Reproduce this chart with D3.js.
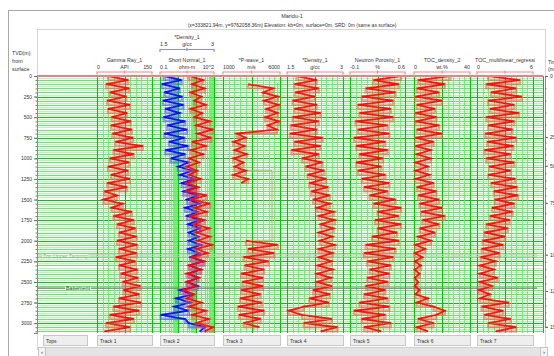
<!DOCTYPE html>
<html>
<head>
<meta charset="utf-8">
<script src="https://cdn.jsdelivr.net/npm/d3@7"></script>
<style>
body { margin: 0; background: #fff; }
svg text { font-family: "Liberation Sans", Arial, sans-serif; fill: #333; }
</style>
</head>
<body>
<div id="chart"></div>
<script>
const W = 554, H = 356;

// sampling grid of the logs (m, every 50 m)
const depths = d3.range(0, 3101, 50);

// curve values
const gammaRay = [30,85,25,88,35,80,28,90,30,82, 40,92,38,95,42,98,50,125,45,100,
  35,88,30,85,38,90,28,82,20,55, 18,70,40,95,45,100,55,105,60,108,
  55,110,60,108,52,105,60,110,65,112, 70,118,72,115,60,120,45,115,35,100, 25,90,20];
const densityT2 = [1.60,2.10,1.55,2.05,1.62,2.12,1.58,2.15,1.65,2.05,
  1.60,2.20,1.70,2.25,1.62,2.18,1.75,2.28,1.65,2.20,
  1.80,2.30,2.00,2.40,2.05,2.45,2.10,2.50,2.15,2.55,
  2.25,2.60,2.20,2.55,2.25,2.60,2.28,2.62,2.30,2.58,
  2.30,2.65,2.28,2.60,2.35,2.70,2.32,2.62,2.30,2.55,
  2.25,2.55,2.05,2.40,1.95,2.35,1.90,2.30,1.52,2.20, 2.30,2.75,2.60];
const shortNormal = [4,25,6,30,5,20,8,35,5,22, 8,60,10,90,12,70,6,35,5,25,
  4,15,3,12,4,18,3,14,3,40, 5,60,8,40,5,30,8,55,10,60,
  12,80,10,45,6,30,4,20,3,15, 3,10,2,8,3,20,4,35,6,50, 10,90,30];
const pWave = [null,null,3200,5400,4500,5800,4600,5900,4800,5800,
  4700,5900,4900,5700,2200,3000,1900,2900,2000,3100,
  1900,2800,2000,3000,1900,3200,2600,null,null,null,
  null,null,null,null,null,null,null,null,null,null,
  3000,5800,3200,5500,2800,5000,2900,4600,2600,4500,
  2700,4500,2600,4300,2500,4400,2300,4600,2400,4300, 2800,4200,null];
const densityT4 = [1.75,2.30,1.70,2.35,1.72,2.25,1.65,2.30,1.70,2.40,
  1.65,2.35,1.60,2.30,1.58,2.45,1.70,2.40,1.62,2.35,
  1.90,2.45,2.00,2.50,2.05,2.55,2.10,2.60,2.15,2.65,
  2.20,2.65,2.30,2.75,2.35,2.78,2.40,2.75,2.35,2.72,
  2.38,2.78,2.35,2.72,2.35,2.70,2.32,2.72,2.30,2.68,
  2.30,2.70,2.20,2.65,2.10,2.62,1.95,1.55,1.90,2.70, 1.95,2.85,2.40];
const neutron = [0.55,0.20,0.52,0.10,0.48,0.05,0.45,0.00,0.42,0.02,
  0.45,-0.03,0.38,0.00,0.40,-0.05,0.35,-0.02,0.38,0.02,
  0.32,-0.02,0.30,0.00,0.35,0.05,0.40,0.08,0.38,0.15,
  0.48,0.20,0.55,0.25,0.52,0.22,0.55,0.25,0.50,0.18,
  0.52,0.10,0.48,0.08,0.45,0.12,0.42,0.15,0.40,0.12,
  0.38,0.10,0.35,0.08,0.38,0.02,0.40,-0.05,0.35,0.05, 0.42,0.08,0.30];
const tocDensity = [26,3,22,2,18,1,20,2,15,1, 16,1,18,2,20,1,14,1,12,2,
  12,1,10,1,11,1,14,2,16,3, 18,4,20,5,22,6,18,4,15,3,
  12,1,8,0.5,6,0.5,5,0.5,4,0.5, 3,0.5,4,1,10,2,14,22,16,3, 14,2,10];
const tocMulti = [1.2,4.6,1.0,4.2,1.5,4.8,1.2,4.0,1.4,4.5,
  1.0,4.0,1.2,3.8,0.9,4.2,1.1,3.9,0.8,3.6,
  1.0,4.0,1.3,3.6,1.2,4.1,1.5,4.3,1.8,4.4,
  1.9,4.0,1.6,3.8,1.4,3.5,1.0,3.3,0.8,3.0,
  0.6,2.8,0.5,2.4,0.4,2.0,0.3,1.8,0.3,2.2,
  0.3,1.6,0.2,1.4,0.3,3.4,0.5,2.8,0.8,3.6, 1.2,4.2,2.0];

// blocked P-wave (interval tops and velocities)
const blockDepths = [85, 690, 1150, 2000, 3100];
const blockValues = [5800, 2400, 5300, 3700];

// tracks
const trackNames = ["Gamma Ray_1","Short Normal_1","*P-wave_1","*Density_1","Neutron Porosity_1","TOC_density_2","TOC_multilinear_regressi"];
const trackUnits = ["API","ohm-m","m/s","g/cc","%","wt.%",""];
const trackMinLbl = ["0","0.1","1000","1.5","-0.1","0","0"];
const trackMaxLbl = ["150","10^2","6000","3","0.6","40","6"];
const trackDomains = [[0,150],[0.1,100],[1000,6000],[1.5,3],[-0.1,0.6],[0,40],[0,6]];
const tabLabels = ["Tops","Track 1","Track 2","Track 3","Track 4","Track 5","Track 6","Track 7"];

// formation tops
const topNames = ["Top Upper Tanjung","Basement"];
const topDepths = [2180, 2575];

// axes
const depthTicks = [0,250,500,750,1000,1250,1500,1750,2000,2250,2500,2750,3000];
const twtTicks = [0,250,500,750,1000,1250,1500];
const twtDepths = [0,740,1090,1540,2170,2610,3045];

const trackX = [[97,152],[160,214],[223,280],[287,343],[350,405],[414,470],[477,533]];
const plotL = 37, plotR = 543;
const fmt = d3.format('d');

const svg = d3.select('#chart').append('svg')
    .attr('width', W).attr('height', H);

const y = d3.scaleLinear().domain([0, 3120]).range([76, 333]);
const xs = trackDomains.map((d, i) => (i === 1 ? d3.scaleLog() : d3.scaleLinear()).domain(d).range(trackX[i]));
const xDen2 = d3.scaleLinear().domain([1.5, 3]).range(trackX[1]);

// frames
svg.append('rect').attr('x', 8.5).attr('y', 10.5).attr('width', 600).attr('height', 400)
    .attr('fill', '#fff').attr('stroke', '#a8a8a8');
svg.append('rect').attr('x', 37.5).attr('y', 29.5).attr('width', 508).attr('height', 320)
    .attr('fill', '#fff').attr('stroke', '#d6d6d6');

// titles
svg.append('text').attr('x', 292).attr('y', 18).attr('text-anchor', 'middle')
    .style('font-size', '5.5px').text('Maridu-1');
svg.append('text').attr('x', 292).attr('y', 27).attr('text-anchor', 'middle')
    .style('font-size', '5px')
    .text('(x=333821.94m, y=9762058.36m) Elevation: kb=0m, surface=0m, SRD: 0m (same as surface)');

['TVD(m)', 'from', 'surface'].forEach((t, i) => {
    svg.append('text').attr('x', 12).attr('y', 55 + i * 8).style('font-size', '5.3px').text(t);
});
['Time', '(ms)'].forEach((t, i) => {
    svg.append('text').attr('x', 548).attr('y', 64 + i * 7).style('font-size', '5.3px').text(t);
});

// track headers
function header(x0, x1, name, lmin, unit, lmax, yName, yScale, yBr, col) {
    const g = svg.append('g');
    const cx = (x0 + x1) / 2;
    g.append('text').attr('x', cx).attr('y', yName).attr('text-anchor', 'middle')
        .style('font-size', '5.3px').text(name);
    g.append('text').attr('x', x0).attr('y', yScale).style('font-size', '5.3px').text(lmin);
    g.append('text').attr('x', cx).attr('y', yScale).attr('text-anchor', 'middle')
        .style('font-size', '5.3px').text(unit);
    g.append('text').attr('x', x1).attr('y', yScale).attr('text-anchor', 'end')
        .style('font-size', '5.3px').text(lmax);
    g.append('path')
        .attr('d', `M${x0},${yBr + 2.5}V${yBr}H${x1}V${yBr + 2.5}M${cx},${yBr - 1.5}V${yBr + 1.5}`)
        .attr('fill', 'none').attr('stroke', col).attr('stroke-width', 1.2);
}
trackNames.forEach((n, i) => {
    header(trackX[i][0], trackX[i][1], n, trackMinLbl[i], trackUnits[i], trackMaxLbl[i], 62, 69, 72, '#f08a8a');
});
header(trackX[1][0], trackX[1][1], '*Density_1', '1.5', 'g/cc', '3', 39, 46, 49.5, '#8a8af0');

// horizontal grid
const grid = svg.append('g');
d3.range(25, 3120, 25).forEach(d => {
    const major = d % 250 === 0, mid = d % 50 === 0;
    grid.append('line').attr('x1', plotL).attr('x2', plotR)
        .attr('y1', Math.round(y(d)) + 0.5).attr('y2', Math.round(y(d)) + 0.5)
        .attr('stroke', major ? '#00c800' : mid ? '#4ee84e' : '#b4f2b4')
        .attr('stroke-width', major ? 1.1 : 0.9);
});

// vertical grid per track
trackX.forEach((r, i) => {
    const s = xs[i];
    let lines;
    if (i === 1) {
        lines = [];
        [0.1, 1, 10].forEach(dec => d3.range(1, 10).forEach(m => lines.push({ v: m * dec, major: m === 1 })));
        lines.push({ v: 100, major: true });
    } else {
        const [a, b] = trackDomains[i];
        lines = d3.range(11).map(k => ({ v: a + k * (b - a) / 10, major: k % 5 === 0 }));
    }
    lines.forEach(l => {
        const x = Math.round(s(l.v)) + 0.5;
        grid.append('line').attr('x1', x).attr('x2', x).attr('y1', y(0)).attr('y2', 333)
            .attr('stroke', l.major ? '#00c800' : '#5ee85e').attr('stroke-width', l.major ? 1.1 : 0.8);
    });
});
grid.append('line').attr('x1', plotR + 0.5).attr('x2', plotR + 0.5).attr('y1', y(0)).attr('y2', 333)
    .attr('stroke', '#00c800');

// formation tops
topDepths.forEach((d, i) => {
    const yy = y(d);
    const basement = i === 1;
    const col = basement ? '#7a7a7a' : '#c4c4c4';
    const tx0 = basement ? 66 : 43;
    const t = svg.append('text').attr('x', tx0).attr('y', yy + 2).style('font-size', '5.3px')
        .style('fill', basement ? '#444' : '#a8a8a8').text(topNames[i]);
    const tw = t.node().getComputedTextLength();
    const offs = basement ? [0] : [-1, 1];
    offs.forEach(o => {
        svg.append('line').attr('x1', plotL).attr('x2', tx0 - 1).attr('y1', yy + o).attr('y2', yy + o)
            .attr('stroke', col).attr('stroke-width', basement ? 1.3 : 0.8);
        svg.append('line').attr('x1', tx0 + tw + 1).attr('x2', 537).attr('y1', yy + o).attr('y2', yy + o)
            .attr('stroke', col).attr('stroke-width', basement ? 1.3 : 0.8);
    });
});

// clip paths
const defs = svg.append('defs');
trackX.forEach((r, i) => {
    defs.append('clipPath').attr('id', 'clip' + i)
        .append('rect').attr('x', r[0] - 1).attr('y', y(0)).attr('width', r[1] - r[0] + 2).attr('height', 333 - y(0));
});

function drawCurve(i, values, scale, col, pale) {
    const pts = depths.map((d, k) => ({ d, v: values[k] }));
    const line = d3.line().defined(p => p.v != null).x(p => scale(p.v)).y(p => y(p.d));
    const g = svg.append('g').attr('clip-path', `url(#clip${i})`);
    // pale blocky band behind the trace
    g.append('path').attr('d', line.curve(d3.curveStepBefore)(pts)).attr('fill', 'none')
        .attr('stroke', pale).attr('stroke-width', 2.4).attr('opacity', 0.55);
    g.append('path').attr('d', line.curve(d3.curveLinear)(pts)).attr('fill', 'none')
        .attr('stroke', col).attr('stroke-width', 1.8).attr('opacity', 0.9);
}

// blocked P-wave
{
    const pts = blockValues.map((v, k) => [xs[2](v), y(blockDepths[k])]);
    pts.push([xs[2](blockValues[blockValues.length - 1]), y(blockDepths[blockDepths.length - 1])]);
    svg.append('g').attr('clip-path', 'url(#clip2)').append('path')
        .attr('d', d3.line().curve(d3.curveStepBefore)(pts))
        .attr('fill', 'none').attr('stroke', '#d0a08a').attr('stroke-width', 1);
}

drawCurve(0, gammaRay, xs[0], '#ff0000', '#ff5050');
drawCurve(1, densityT2, xDen2, '#0000ff', '#5050ff');
drawCurve(1, shortNormal, xs[1], '#ff0000', '#ff5050');
drawCurve(2, pWave, xs[2], '#ff0000', '#ff5050');
drawCurve(3, densityT4, xs[3], '#ff0000', '#ff5050');
drawCurve(4, neutron, xs[4], '#ff0000', '#ff5050');
drawCurve(5, tocDensity, xs[5], '#ff0000', '#ff5050');
drawCurve(6, tocMulti, xs[6], '#ff0000', '#ff5050');

// depth zero line
svg.append('line').attr('x1', plotL).attr('x2', plotR).attr('y1', y(0)).attr('y2', y(0))
    .attr('stroke', '#e08585').attr('stroke-width', 2);

// left depth axis
const axL = svg.append('g').attr('transform', `translate(${plotL},0)`)
    .call(d3.axisLeft(y).tickValues(depthTicks).tickFormat(fmt).tickSize(3).tickPadding(2));
axL.select('.domain').attr('stroke', '#888');
axL.selectAll('line').attr('stroke', '#666');
axL.selectAll('text').style('font-size', '5px').style('font-family', '"Liberation Sans", Arial, sans-serif');
svg.append('g').attr('transform', `translate(${plotL},0)`)
    .call(d3.axisLeft(y).tickValues(d3.range(50, 3120, 50)).tickSize(1.5).tickFormat(''))
    .call(g => g.select('.domain').remove())
    .selectAll('line').attr('stroke', '#777');

// right time axis
const twt = d3.scaleLinear().domain(twtTicks).range(twtDepths.map(d => y(d)));
const axR = svg.append('g').attr('transform', 'translate(545,0)')
    .call(d3.axisRight(twt).tickValues(twtTicks).tickFormat(fmt).tickSize(3).tickPadding(2));
axR.select('.domain').attr('stroke', '#888');
axR.selectAll('line').attr('stroke', '#666');
axR.selectAll('text').style('font-size', '5px').style('font-family', '"Liberation Sans", Arial, sans-serif');
svg.append('g').attr('transform', 'translate(545,0)')
    .call(d3.axisRight(twt).tickValues(d3.range(50, 1500, 50)).tickSize(1.5).tickFormat(''))
    .call(g => g.select('.domain').remove())
    .selectAll('line').attr('stroke', '#777');

// tabs
const tabX = [[43, 87]].concat(trackX);
tabLabels.forEach((t, i) => {
    const [x0, x1] = tabX[i];
    svg.append('rect').attr('x', x0 + 0.5).attr('y', 335.5).attr('width', x1 - x0).attr('height', 10)
        .attr('fill', '#eeeeee').attr('stroke', '#c8c8c8');
    svg.append('text').attr('x', x0 + 3).attr('y', 342.5).style('font-size', '5px').text(t);
});

// scrollbar
svg.append('rect').attr('x', 38.5).attr('y', 347.5).attr('width', 509).attr('height', 9)
    .attr('fill', '#e4e4e4').attr('stroke', '#cfcfcf');
[[38.5, '\u2039'], [540.5, '\u203A']].forEach(([x, s]) => {
    svg.append('rect').attr('x', x).attr('y', 347.5).attr('width', 7).attr('height', 9)
        .attr('fill', '#f4f4f4').attr('stroke', '#c4c4c4');
    svg.append('text').attr('x', x + 3.5).attr('y', 354).attr('text-anchor', 'middle')
        .style('font-size', '6px').text(s);
});
</script>
</body>
</html>
